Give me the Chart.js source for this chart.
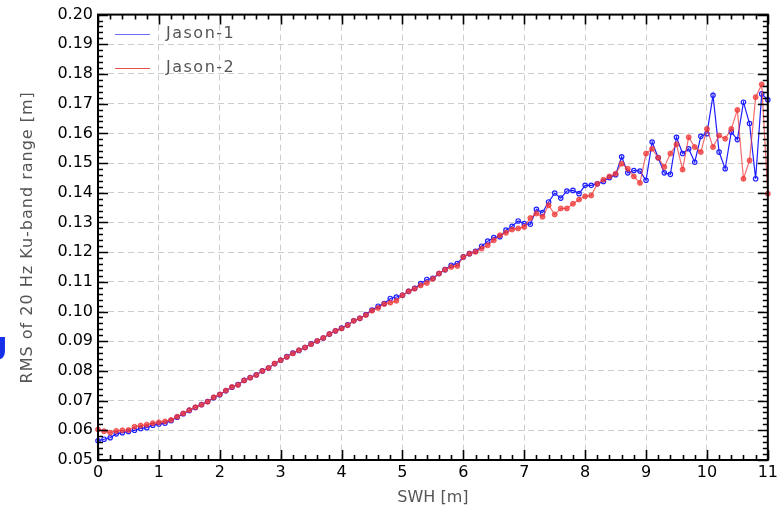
<!DOCTYPE html>
<html>
<head>
<meta charset="utf-8">
<script src="https://cdn.jsdelivr.net/npm/chart.js@4/dist/chart.umd.min.js"></script>
<style>
  html, body { margin: 0; padding: 0; background: #fff; overflow: hidden; }
  #wrap { position: relative; width: 781px; height: 512px; }
  #stray { position: absolute; left: -14px; top: 326px; font: bold 30px "DejaVu Sans"; color: #1530e8; }
</style>
</head>
<body>
<div id="wrap">
  <canvas id="rmsChart" width="781" height="512"></canvas>
  <span id="stray">g</span>
</div>
<script>
// SWH bins [m]
const swh = [
  0.0, 0.1, 0.2, 0.3, 0.4, 0.5, 0.6, 0.7, 0.8, 0.9,
  1.0, 1.1, 1.2, 1.3, 1.4, 1.5, 1.6, 1.7, 1.8, 1.9,
  2.0, 2.1, 2.2, 2.3, 2.4, 2.5, 2.6, 2.7, 2.8, 2.9,
  3.0, 3.1, 3.2, 3.3, 3.4, 3.5, 3.6, 3.7, 3.8, 3.9,
  4.0, 4.1, 4.2, 4.3, 4.4, 4.5, 4.6, 4.7, 4.8, 4.9,
  5.0, 5.1, 5.2, 5.3, 5.4, 5.5, 5.6, 5.7, 5.8, 5.9,
  6.0, 6.1, 6.2, 6.3, 6.4, 6.5, 6.6, 6.7, 6.8, 6.9,
  7.0, 7.1, 7.2, 7.3, 7.4, 7.5, 7.6, 7.7, 7.8, 7.9,
  8.0, 8.1, 8.2, 8.3, 8.4, 8.5, 8.6, 8.7, 8.8, 8.9,
  9.0, 9.1, 9.2, 9.3, 9.4, 9.5, 9.6, 9.7, 9.8, 9.9,
  10.0, 10.1, 10.2, 10.3, 10.4, 10.5, 10.6, 10.7, 10.8, 10.9,
  11.0
];

// RMS of 20 Hz Ku-band range [m]
const jason1 = [
  0.0565, 0.0570, 0.0575, 0.0588, 0.0592, 0.0596, 0.0600, 0.0606, 0.0609, 0.0617,
  0.0621, 0.0624, 0.0632, 0.0644, 0.0656, 0.0667, 0.0677, 0.0687, 0.0697, 0.0710,
  0.0720, 0.0733, 0.0745, 0.0754, 0.0768, 0.0778, 0.0787, 0.0800, 0.0810, 0.0824,
  0.0836, 0.0848, 0.0860, 0.0869, 0.0879, 0.0891, 0.0901, 0.0911, 0.0924, 0.0935,
  0.0944, 0.0955, 0.0969, 0.0977, 0.0990, 0.1005, 0.1018, 0.1027, 0.1044, 0.1049,
  0.1055, 0.1068, 0.1078, 0.1094, 0.1108, 0.1112, 0.1128, 0.1141, 0.1156, 0.1162,
  0.1184, 0.1195, 0.1203, 0.1220, 0.1237, 0.1249, 0.1252, 0.1274, 0.1287, 0.1305,
  0.1296, 0.1294, 0.1344, 0.1333, 0.1369, 0.1399, 0.1382, 0.1406, 0.1408, 0.1397,
  0.1425, 0.1425, 0.1430, 0.1438, 0.1451, 0.1461, 0.1521, 0.1467, 0.1475, 0.1473,
  0.1442, 0.1571, 0.1518, 0.1467, 0.1462, 0.1587, 0.1532, 0.1548, 0.1503, 0.1590,
  0.1599, 0.1728, 0.1537, 0.1481, 0.1605, 0.1579, 0.1705, 0.1633, 0.1447, 0.1733,
  0.1713
];

const jason2 = [
  0.0603, 0.0597, 0.0592, 0.0598, 0.0600, 0.0601, 0.0612, 0.0616, 0.0619, 0.0624,
  0.0627, 0.0630, 0.0635, 0.0646, 0.0657, 0.0668, 0.0678, 0.0686, 0.0696, 0.0711,
  0.0721, 0.0734, 0.0746, 0.0753, 0.0768, 0.0777, 0.0786, 0.0800, 0.0810, 0.0825,
  0.0836, 0.0847, 0.0859, 0.0870, 0.0879, 0.0890, 0.0901, 0.0911, 0.0924, 0.0935,
  0.0943, 0.0954, 0.0969, 0.0977, 0.0988, 0.1003, 0.1012, 0.1025, 0.1030, 0.1036,
  0.1055, 0.1068, 0.1077, 0.1088, 0.1096, 0.1110, 0.1128, 0.1141, 0.1150, 0.1153,
  0.1184, 0.1195, 0.1201, 0.1212, 0.1223, 0.1240, 0.1257, 0.1265, 0.1276, 0.1280,
  0.1285, 0.1315, 0.1330, 0.1319, 0.1358, 0.1327, 0.1347, 0.1347, 0.1363, 0.1377,
  0.1388, 0.1391, 0.1430, 0.1444, 0.1455, 0.1464, 0.1498, 0.1481, 0.1455, 0.1433,
  0.1532, 0.1548, 0.1518, 0.1487, 0.1532, 0.1563, 0.1478, 0.1587, 0.1554, 0.1537,
  0.1615, 0.1554, 0.1593, 0.1582, 0.1615, 0.1679, 0.1447, 0.1509, 0.1722, 0.1765,
  0.1397
];

const seriesNames = ["Jason-1", "Jason-2"];
const xTitle = "SWH [m]";
const yTitle = "RMS of 20 Hz Ku-band range [m]";

const toPoints = (vals) => swh.map((x, i) => ({ x: x, y: vals[i] }));

// frame, inward ticks, titles and legend, drawn like the IDL plot
const idlFrame = {
  id: "idlFrame",
  afterDraw(chart) {
    const ctx = chart.ctx;
    const { left, right, top, bottom } = chart.chartArea;
    const xs = chart.scales.x;
    const ys = chart.scales.y;
    ctx.save();
    ctx.strokeStyle = "#000";
    ctx.lineWidth = 2;
    ctx.strokeRect(left, top, right - left, bottom - top);

    ctx.lineWidth = 1.6;
    ctx.beginPath();
    for (let i = 0; i <= 55; i++) {
      const px = Math.round(xs.getPixelForValue(i * 0.2)) + 0.5;
      const len = i % 5 === 0 ? 10 : 5;
      ctx.moveTo(px, bottom);
      ctx.lineTo(px, bottom - len);
      ctx.moveTo(px, top);
      ctx.lineTo(px, top + len);
    }
    for (let i = 0; i <= 75; i++) {
      const py = Math.round(ys.getPixelForValue(0.05 + i * 0.002)) + 0.5;
      const len = i % 5 === 0 ? 10 : 5;
      ctx.moveTo(left, py);
      ctx.lineTo(left + len, py);
      ctx.moveTo(right, py);
      ctx.lineTo(right - len, py);
    }
    ctx.stroke();

    // axis titles
    ctx.fillStyle = "#555";
    ctx.font = "16px 'DejaVu Sans'";
    ctx.textAlign = "center";
    ctx.textBaseline = "middle";
    ctx.fillText(xTitle, (left + right) / 2, 498);
    ctx.save();
    ctx.translate(28, (top + bottom) / 2);
    ctx.rotate(-Math.PI / 2);
    ctx.letterSpacing = "1px";
    ctx.fillText(yTitle, 0, 0);
    ctx.restore();

    // legend inside the plot
    const legendCols = ["#6a6aff", "#e85050"];
    ctx.letterSpacing = "1.5px";
    ctx.textAlign = "left";
    seriesNames.forEach((name, i) => {
      const ly = 34 + i * 34;
      ctx.strokeStyle = legendCols[i];
      ctx.lineWidth = 1;
      ctx.beginPath();
      ctx.moveTo(115, ly + 0.5);
      ctx.lineTo(150, ly + 0.5);
      ctx.stroke();
      ctx.fillStyle = "#555";
      ctx.fillText(name, 166, ly);
    });
    ctx.restore();
  }
};

const ctx = document.getElementById("rmsChart").getContext("2d");
const rmsChart = new Chart(ctx, {
  type: "line",
  data: {
    datasets: [
      {
        label: seriesNames[0],
        data: toPoints(jason1),
        borderColor: "#1e1eff",
        borderWidth: 1.2,
        pointRadius: 2.2,
        pointBorderWidth: 1.2,
        pointBackgroundColor: "rgba(255,255,255,0)",
        pointBorderColor: "#1e1eff",
        tension: 0,
        order: 1,
      },
      {
        label: seriesNames[1],
        data: toPoints(jason2),
        borderColor: "rgba(240,60,60,0.75)",
        borderWidth: 1.2,
        pointRadius: 2.5,
        pointBorderWidth: 1,
        pointBackgroundColor: "rgba(240,50,50,0.7)",
        pointBorderColor: "rgba(240,50,50,0.7)",
        tension: 0,
        order: 0,
      },
    ],
  },
  options: {
    responsive: false,
    animation: false,
    clip: false,
    layout: { padding: { top: 14, right: 13, left: 0, bottom: 0 } },
    plugins: { legend: { display: false }, tooltip: { enabled: false } },
    scales: {
      x: {
        type: "linear",
        min: 0,
        max: 11,
        afterFit: (s) => { s.height = 52; },
        ticks: {
          stepSize: 1,
          autoSkip: false,
          maxRotation: 0,
          padding: 3,
          color: "#000",
          font: { family: "DejaVu Sans", size: 16 },
        },
        grid: { color: "#cccccc", lineWidth: 1, drawTicks: false },
        border: { display: false, dash: [6, 4] },
      },
      y: {
        type: "linear",
        min: 0.05,
        max: 0.2,
        afterFit: (s) => { s.width = 98; },
        ticks: {
          stepSize: 0.01,
          autoSkip: false,
          padding: 5,
          color: "#000",
          font: { family: "DejaVu Sans", size: 16 },
          callback: (v) => v.toFixed(2),
        },
        grid: { color: "#cccccc", lineWidth: 1, drawTicks: false },
        border: { display: false, dash: [6, 4] },
      },
    },
  },
  plugins: [idlFrame],
});
</script>
</body>
</html>
